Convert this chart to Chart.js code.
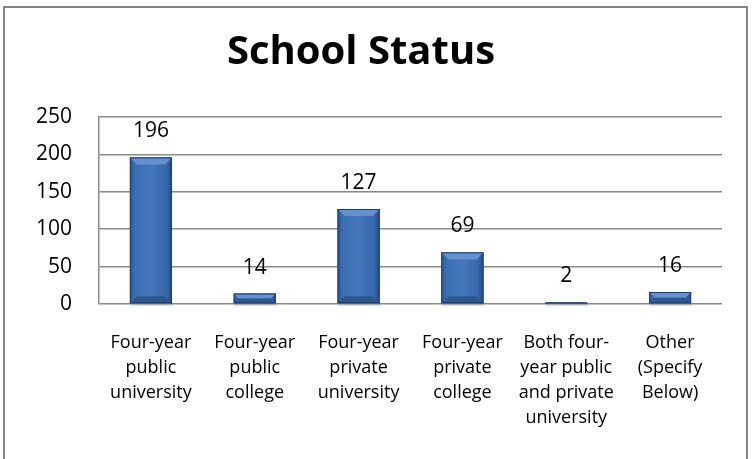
<!DOCTYPE html>
<html>
<head>
<meta charset="utf-8">
<script src="https://cdn.jsdelivr.net/npm/chart.js@4"></script>
<style>
  html, body { margin: 0; padding: 0; background: #fff; }
  #wrap { position: relative; width: 752px; height: 459px; overflow: hidden; }
  #frame { position: absolute; left: 3px; top: 6px; width: 745px; height: 460px; border: 2px solid #868686; box-sizing: border-box; }
  #chart { position: absolute; left: 0; top: 0; }
</style>
</head>
<body>
<div id="wrap">
  <div id="frame"></div>
  <canvas id="chart" width="752" height="459"></canvas>
</div>
<script>
// categories and values of the bar chart
var categories = [
  ["Four-year", "public", "university"],
  ["Four-year", "public", "college"],
  ["Four-year", "private", "university"],
  ["Four-year", "private", "college"],
  ["Both four-", "year public", "and private", "university"],
  ["Other", "(Specify", "Below)"]
];
var counts = [196, 14, 127, 69, 2, 16];
var yTicks = [0, 50, 100, 150, 200, 250];

var fontFamily = "'Open Sans', sans-serif";

// paints the shaded, bevelled look on each bar and the value above it
var barLook = {
  id: 'barLook',
  afterDatasetsDraw: function(chart) {
    var ctx = chart.ctx;
    var meta = chart.getDatasetMeta(0);
    ctx.save();
    meta.data.forEach(function(bar, i) {
      var w = bar.width;
      var left = bar.x - w / 2;
      var top = bar.y;
      var bottom = bar.base;
      var h = bottom - top;

      // soft shadow below the bar
      ctx.fillStyle = 'rgba(0,0,0,0.12)';
      ctx.fillRect(left + 1, bottom, w, 3);

      var g = ctx.createLinearGradient(left, 0, left + w, 0);
      g.addColorStop(0, '#2B5894');
      g.addColorStop(0.12, '#3C6EB3');
      g.addColorStop(0.5, '#4477BC');
      g.addColorStop(0.88, '#3867A9');
      g.addColorStop(1, '#21477C');
      ctx.fillStyle = g;
      ctx.fillRect(left, top, w, h);

      // top bevel
      var b = Math.min(7, h / 2);
      ctx.fillStyle = '#6591CF';
      ctx.beginPath();
      ctx.moveTo(left, top);
      ctx.lineTo(left + w, top);
      ctx.lineTo(left + w - b, top + b);
      ctx.lineTo(left + b, top + b);
      ctx.closePath();
      ctx.fill();
      // bottom bevel
      ctx.fillStyle = '#2E5790';
      ctx.beginPath();
      ctx.moveTo(left, bottom);
      ctx.lineTo(left + w, bottom);
      ctx.lineTo(left + w - b, bottom - b);
      ctx.lineTo(left + b, bottom - b);
      ctx.closePath();
      ctx.fill();

      ctx.strokeStyle = '#1E3F6E';
      ctx.lineWidth = 1;
      ctx.strokeRect(left + 0.5, top + 0.5, w - 1, h - 1);

      // value label
      ctx.fillStyle = '#000';
      ctx.font = '21px ' + fontFamily;
      ctx.textAlign = 'center';
      ctx.textBaseline = 'middle';
      ctx.fillText(String(counts[i]), bar.x, top - 26);
    });
    ctx.restore();
  }
};

var ctx = document.getElementById("chart").getContext('2d');
var myBarChart = new Chart(ctx, {
  type: 'bar',
  data: {
    labels: categories,
    datasets: [{
      data: counts,
      backgroundColor: '#3C6EB3',
      barPercentage: 0.405,
      categoryPercentage: 1.0
    }]
  },
  options: {
    responsive: false,
    animation: false,
    layout: { padding: { left: 0, right: 30, top: 0, bottom: 29 } },
    plugins: {
      legend: { display: false },
      tooltip: { enabled: false },
      title: {
        display: true,
        text: 'School Status',
        color: '#000',
        font: { family: fontFamily, size: 40, weight: 'bold', lineHeight: 1.2 },
        padding: { top: 29, bottom: 40 }
      }
    },
    scales: {
      x: {
        afterFit: function(scale) { scale.height = 126; },
        grid: { display: false, drawTicks: false },
        border: { display: false },
        ticks: {
          color: '#000',
          font: { family: fontFamily, size: 18, lineHeight: 1.39 },
          padding: 26,
          maxRotation: 0,
          autoSkip: false
        }
      },
      y: {
        min: 0,
        max: 250,
        afterBuildTicks: function(scale) {
          scale.ticks = yTicks.map(function(v) { return { value: v }; });
        },
        afterFit: function(scale) { scale.width = 99; },
        grid: { color: '#8A8A8A', lineWidth: 1.5, drawTicks: false },
        border: { display: true, color: '#8A8A8A', width: 1.5 },
        ticks: {
          color: '#000',
          font: { family: fontFamily, size: 21 },
          padding: 27
        }
      }
    }
  },
  plugins: [barLook]
});
</script>
</body>
</html>
